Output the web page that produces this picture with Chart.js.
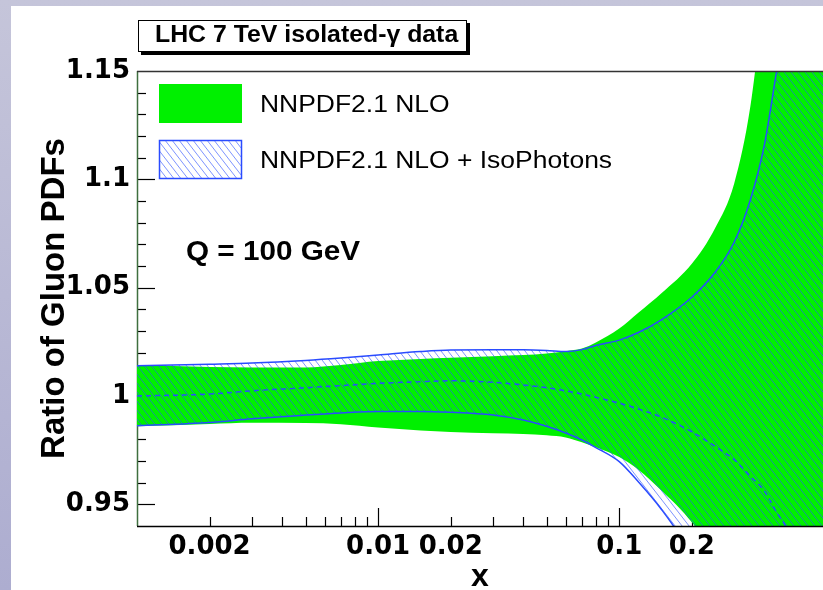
<!DOCTYPE html>
<html>
<head>
<meta charset="utf-8">
<title>Ratio of Gluon PDFs</title>
<script src="https://cdn.jsdelivr.net/npm/chart.js@4.4.1/dist/chart.umd.min.js"></script>
<style>
    html, body { margin: 0; padding: 0; }
    body {
        width: 823px; height: 590px; position: relative; overflow: hidden;
        background: linear-gradient(to bottom, #c5c5da, #adadd0);
    }
    #sheet { position: absolute; left: 11px; top: 6px; right: 0; bottom: 0; background: #fff; }
    #chart { position: absolute; left: 0; top: 0; }
</style>
</head>
<body>
<div id="sheet"></div>
<canvas id="chart" width="823" height="590"></canvas>
<script>
// Valeurs (x en log)
const xPoints    = [0.001, 0.002, 0.003, 0.005, 0.007, 0.01, 0.015, 0.02, 0.03, 0.04, 0.05, 0.06, 0.07, 0.08, 0.1, 0.12, 0.15, 0.2, 0.25, 0.3, 0.35, 0.4, 0.45, 0.5, 0.6, 0.7];
const nloUpper   = [1.0143, 1.0134, 1.0132, 1.0132, 1.0143, 1.0161, 1.0171, 1.0177, 1.0184, 1.0189, 1.0196, 1.0207, 1.0219, 1.0247, 1.0311, 1.0384, 1.0475, 1.0610, 1.0775, 1.0982, 1.1338, 1.187, 1.234, 1.276, 1.35, 1.41];
const nloLower   = [0.9860, 0.9871, 0.9876, 0.9875, 0.9870, 0.9855, 0.9841, 0.9834, 0.9828, 0.9825, 0.9819, 0.9809, 0.9786, 0.9763, 0.9718, 0.9660, 0.9563, 0.9417, 0.925, 0.905, 0.885, 0.865, 0.845, 0.83, 0.80, 0.77];
const isoUpper   = [1.0140, 1.0147, 1.0152, 1.0164, 1.0175, 1.0189, 1.0205, 1.0212, 1.0213, 1.0213, 1.0210, 1.0205, 1.0214, 1.0233, 1.0258, 1.0293, 1.0353, 1.0456, 1.0571, 1.0711, 1.0906, 1.1159, 1.1502, 1.18, 1.235, 1.28];
const isoLower   = [0.9863, 0.9878, 0.9895, 0.9912, 0.9922, 0.9929, 0.9929, 0.9925, 0.9912, 0.9889, 0.9860, 0.9829, 0.9797, 0.9762, 0.9697, 0.9604, 0.9475, 0.927, 0.905, 0.88, 0.86, 0.84, 0.82, 0.80, 0.77, 0.74];
const isoCentral = [1.0000, 1.0009, 1.0024, 1.0038, 1.0048, 1.0058, 1.0066, 1.0070, 1.0063, 1.0051, 1.0038, 1.0024, 1.0009, 0.9994, 0.9967, 0.9940, 0.9902, 0.9835, 0.9767, 0.9706, 0.9629, 0.9561, 0.9462, 0.9373, 0.90, 0.87];

const xTickValues = [0.002, 0.01, 0.02, 0.1, 0.2];
const xTickLabels = ['0.002', '0.01', '0.02', '0.1', '0.2'];
const yTickValues = [0.95, 1, 1.05, 1.1, 1.15];
const yTickLabels = ['0.95', '1', '1.05', '1.1', '1.15'];
const legendLabels = ['NNPDF2.1 NLO', 'NNPDF2.1 NLO + IsoPhotons'];

const VERT = '#00f000';
const BLEU = '#2a4bff';
const HACHURE = 'rgba(45, 80, 255, 0.62)';
const POLICE = '"Liberation Sans", Arial, sans-serif';

function points(valeurs) {
    return xPoints.map((x, i) => ({ x, y: valeurs[i] }));
}

// Motif hachuré "\\\" façon ROOT
function motifHachure(ctx) {
    const c = document.createElement('canvas');
    c.width = 7; c.height = 9;
    const g = c.getContext('2d');
    g.strokeStyle = HACHURE;
    g.lineWidth = 1;
    [-7, 0, 7].forEach(dx => {
        g.beginPath();
        g.moveTo(dx, 0);
        g.lineTo(dx + 7, 9);
        g.stroke();
    });
    return ctx.createPattern(c, 'repeat');
}

// Texte légèrement étiré horizontalement comme sur la figure
function texte(ctx, t, x, y, font, etirement) {
    ctx.save();
    ctx.font = font;
    ctx.fillStyle = '#000';
    ctx.textBaseline = 'alphabetic';
    ctx.translate(x, y);
    ctx.scale(etirement, 1);
    ctx.fillText(t, 0, 0);
    ctx.restore();
}

const axesRoot = {
    id: 'axesRoot',
    beforeDatasetsDraw(chart) {
        const { ctx, chartArea: a, scales: { x, y } } = chart;
        ctx.save();
        ctx.strokeStyle = '#000';
        ctx.lineWidth = 1.2;
        // graduations y (vers l'intérieur)
        for (let i = 95; i <= 114; i++) {
            const majeur = i % 5 === 0;
            const py = Math.round(y.getPixelForValue(i / 100)) + 0.5;
            ctx.beginPath();
            ctx.moveTo(a.left, py);
            ctx.lineTo(a.left + (majeur ? 18 : 9), py);
            ctx.stroke();
        }
        // graduations x (log)
        [0.001, 0.01, 0.1].forEach(dec => {
            for (let m = 1; m <= 9; m++) {
                const v = m * dec;
                if (v <= x.min * 1.001 || v > x.max) continue;
                const px = Math.round(x.getPixelForValue(v)) + 0.5;
                ctx.beginPath();
                ctx.moveTo(px, a.bottom);
                ctx.lineTo(px, a.bottom - (m === 1 ? 18 : 9));
                ctx.stroke();
            }
        });
        // axe gauche
        ctx.strokeStyle = '#3f6f3f';
        ctx.lineWidth = 1.5;
        ctx.beginPath();
        ctx.moveTo(a.left + 0.5, a.top);
        ctx.lineTo(a.left + 0.5, a.bottom);
        ctx.stroke();
        ctx.restore();
    },
    afterDatasetsDraw(chart) {
        const { ctx, chartArea: a } = chart;
        ctx.save();
        ctx.lineWidth = 1.5;
        ctx.strokeStyle = '#333';
        ctx.beginPath();
        ctx.moveTo(a.left, a.top + 0.5);
        ctx.lineTo(a.right, a.top + 0.5);
        ctx.stroke();
        ctx.strokeStyle = '#000';
        ctx.beginPath();
        ctx.moveTo(a.left, a.bottom + 0.5);
        ctx.lineTo(a.right, a.bottom + 0.5);
        ctx.stroke();
        ctx.restore();
    },
    afterDraw(chart) {
        const ctx = chart.ctx;
        // boîte du titre avec ombre
        ctx.save();
        ctx.fillStyle = '#000';
        ctx.fillRect(141, 23, 329, 32);
        ctx.fillStyle = '#fff';
        ctx.fillRect(138, 20, 329, 32);
        ctx.strokeStyle = '#000';
        ctx.lineWidth = 1;
        ctx.strokeRect(138.5, 20.5, 328, 31);
        ctx.restore();
        texte(ctx, 'LHC 7 TeV isolated-γ data', 155, 42, 'bold 23px ' + POLICE, 1.08);

        // légende
        ctx.save();
        ctx.fillStyle = VERT;
        ctx.fillRect(159, 84, 83, 39);
        ctx.fillStyle = '#fff';
        ctx.fillRect(159, 140, 83, 39);
        ctx.fillStyle = motifHachure(ctx);
        ctx.fillRect(159, 140, 83, 39);
        ctx.strokeStyle = BLEU;
        ctx.lineWidth = 1.5;
        ctx.strokeRect(159.5, 140.5, 82, 38);
        ctx.restore();
        texte(ctx, legendLabels[0], 260, 112, '23px ' + POLICE, 1.15);
        texte(ctx, legendLabels[1], 260, 168, '23px ' + POLICE, 1.15);

        texte(ctx, 'Q = 100 GeV', 186, 260, 'bold 27px ' + POLICE, 1.1);
    }
};

const ctx = document.getElementById('chart').getContext('2d');
const hachure = motifHachure(ctx);

new Chart(ctx, {
    type: 'line',
    data: {
        datasets: [
            { label: legendLabels[0], data: points(nloUpper), fill: '+1', backgroundColor: VERT,
              borderWidth: 0, pointRadius: 0, cubicInterpolationMode: 'monotone', order: 5 },
            { label: 'nloLower', data: points(nloLower), fill: false,
              borderWidth: 0, pointRadius: 0, cubicInterpolationMode: 'monotone', order: 5 },
            { label: legendLabels[1], data: points(isoUpper), fill: '+1', backgroundColor: hachure,
              borderColor: BLEU, borderWidth: 1.5, pointRadius: 0, cubicInterpolationMode: 'monotone', order: 2 },
            { label: 'isoLower', data: points(isoLower), fill: false,
              borderColor: BLEU, borderWidth: 1.5, pointRadius: 0, cubicInterpolationMode: 'monotone', order: 2 },
            { label: 'isoCentral', data: points(isoCentral), fill: false, borderDash: [5, 4],
              borderColor: BLEU, borderWidth: 1.5, pointRadius: 0, cubicInterpolationMode: 'monotone', order: 1 }
        ]
    },
    options: {
        responsive: false,
        animation: false,
        layout: { padding: { top: 71, left: 0, right: 0, bottom: 0 } },
        plugins: { legend: { display: false }, tooltip: { enabled: false } },
        scales: {
            x: {
                type: 'logarithmic',
                min: 0.001,
                max: 0.7,
                grid: { display: false, drawTicks: false },
                border: { display: false },
                afterBuildTicks: s => { s.ticks = xTickValues.map(v => ({ value: v })); },
                afterFit: s => { s.height = 64; },
                ticks: {
                    autoSkip: false, maxRotation: 0, padding: 6, color: '#000',
                    font: { family: '"DejaVu Sans"', weight: 'bold', size: 26 },
                    callback: (v, i) => xTickLabels[i]
                },
                title: {
                    display: true, text: 'x', color: '#000', padding: { top: 0, bottom: 0 },
                    font: { family: POLICE, weight: 'bold', size: 32, lineHeight: 0.8 }
                }
            },
            y: {
                min: 0.94,
                max: 1.15,
                grid: { display: false, drawTicks: false },
                border: { display: false },
                afterBuildTicks: s => { s.ticks = yTickValues.map(v => ({ value: v })); },
                afterFit: s => { s.width = 137; },
                ticks: {
                    autoSkip: false, padding: 7, color: '#000',
                    font: { family: '"DejaVu Sans"', weight: 'bold', size: 26 },
                    callback: (v, i) => yTickLabels[i]
                },
                title: {
                    display: true, text: 'Ratio of Gluon PDFs', color: '#000', padding: { top: 35, bottom: 0 },
                    font: { family: POLICE, weight: 'bold', size: 33 }
                }
            }
        }
    },
    plugins: [axesRoot]
});
</script>
</body>
</html>
